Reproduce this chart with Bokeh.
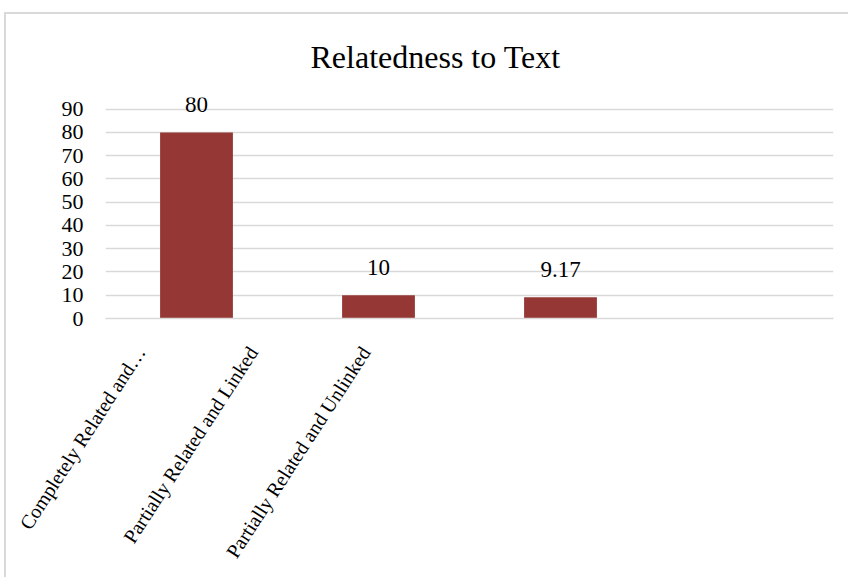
from bokeh.plotting import figure
from bokeh.models import ColumnDataSource, LabelSet, Range1d, LinearAxis, FixedTicker
from bokeh.core.properties import value
from bokeh.embed import file_html
from bokeh.resources import INLINE
import math

# ---- data ----
categories = ["Completely Related and…", "Partially Related and Linked", "Partially Related and Unlinked"]
n_slots = 4  # the chart reserves one empty category slot on the right
values = [80, 10, 9.17]
value_labels = ["80", "10", "9.17"]
y_ticks = [0, 10, 20, 30, 40, 50, 60, 70, 80, 90]
title_text = "Relatedness to Text"

FONT = "Liberation Serif"
GRID = "#d9d9d9"
BAR = "#953735"

slot_centers = [i + 0.5 for i in range(len(categories))]
src = ColumnDataSource(dict(x=slot_centers, cat=categories, val=values, lab=value_labels))

p = figure(
    width=844, height=565,
    x_range=Range1d(0, n_slots),
    y_range=Range1d(0, 95),
    x_axis_type=None,
    output_backend="svg", toolbar_location=None,
    min_border_left=99, min_border_right=17, min_border_top=82, min_border_bottom=261,
)
p.margin = (12, 0, 0, 4)
p.styles = {"border-top": "2px solid #d9d9d9", "border-left": "2px solid #d9d9d9"}
p.outline_line_color = None
p.xgrid.visible = False

p.title.text = title_text
p.title.text_font = FONT
p.title.text_font_size = "32px"
p.title.text_font_style = "normal"
p.title.text_color = "#000000"
p.title.align = "left"
p.title.offset = 205
p.title.standoff = 45

p.vbar(x="x", top="val", width=0.4, source=src, fill_color=BAR, line_color=None)

labels = LabelSet(x="x", y="val", text="lab", source=src, y_offset=20,
                  text_align="center", text_baseline="alphabetic",
                  text_font=value(FONT), text_font_size="23px", text_color="#000000")
p.add_layout(labels)

# y axis
ya = p.yaxis[0]
ya.ticker = FixedTicker(ticks=y_ticks)
ya.axis_line_color = None
ya.major_tick_line_color = None
ya.minor_tick_line_color = None
ya.major_label_text_font = FONT
ya.major_label_text_font_size = "22px"
ya.major_label_text_color = "#000000"
ya.major_label_standoff = 16
p.ygrid.grid_line_color = GRID
p.ygrid.grid_line_width = 1.5

# category label axis (labels sit left of their bars, as in the source chart)
p.extra_x_ranges = {"labels": Range1d(-0.311, 6.16)}
lab_axis = LinearAxis(
    x_range_name="labels",
    ticker=FixedTicker(ticks=list(range(len(categories)))),
    major_label_overrides={i: c for i, c in enumerate(categories)},
)
lab_axis.axis_line_color = GRID
lab_axis.axis_line_width = 1.5
lab_axis.major_tick_line_color = None
lab_axis.minor_tick_line_color = None
lab_axis.major_label_orientation = math.radians(57)
lab_axis.major_label_text_font = FONT
lab_axis.major_label_text_font_size = "20px"
lab_axis.major_label_text_color = "#000000"
lab_axis.major_label_standoff = 24
p.add_layout(lab_axis, "below")

open("out.html", "w").write(file_html(p, INLINE))
